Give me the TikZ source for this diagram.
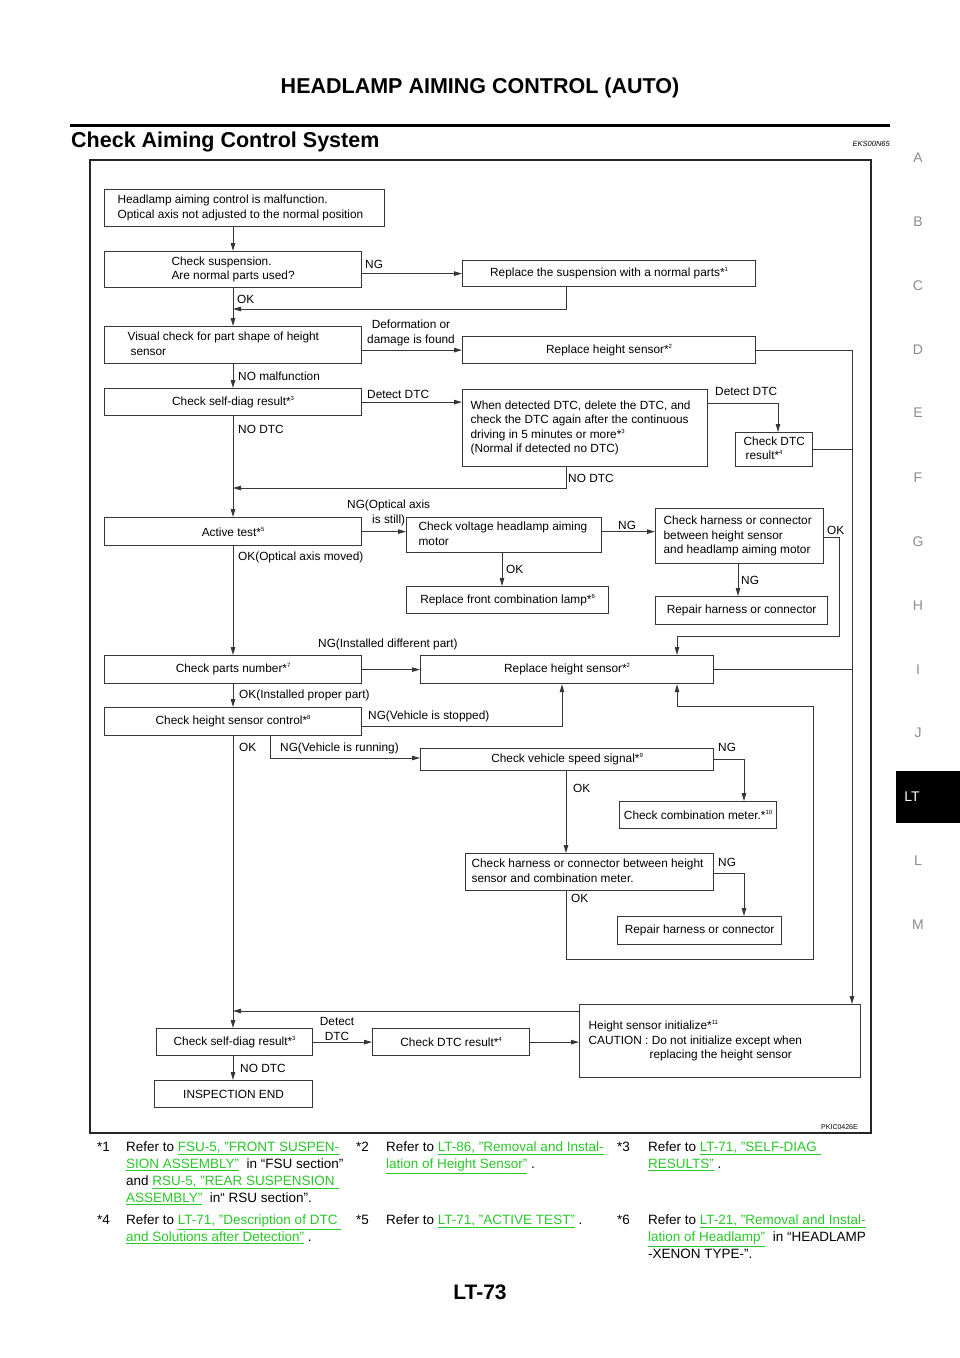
\documentclass[tikz,border=0pt]{standalone}
\usepackage{fontspec}
\setmainfont{Liberation Sans}
\usetikzlibrary{arrows.meta}
\definecolor{lk}{RGB}{40,200,40}
\definecolor{ln}{RGB}{55,55,55}
\newcommand{\sref}[1]{*\raisebox{0.42em}{\fontsize{6}{6}\selectfont #1}}
\newcommand{\lnk}[1]{\textcolor{lk}{\underline{#1}}}
\newcommand{\bxc}[6]{\pgfmathsetmacro\myBW{#4-#2}\pgfmathsetmacro\myBH{#5-#3}%
  \node[box, minimum width=\myBW pt, minimum height=\myBH pt, align=center] (#1) at (#2,#3) {#6};}
\newcommand{\bxl}[7]{\pgfmathsetmacro\myBW{#4-#2-2*#6}\pgfmathsetmacro\myBH{#5-#3}%
  \node[box, inner xsep=#6pt, minimum width={(#4-#2)*1pt}, minimum height=\myBH pt] (#1) at (#2,#3)
  {\makebox[\myBW pt][l]{\begin{tabular}{@{}l@{}}#7\end{tabular}}};}
\begin{document}
\begin{tikzpicture}[x=1pt,y=-1pt,
  box/.style={draw=ln, line width=1.2pt, inner sep=0pt, anchor=north west, font=\fontsize{11.85}{14.5}\selectfont},
  lbl/.style={anchor=base west, inner sep=0pt, font=\fontsize{11.85}{14.5}\selectfont},
  fn/.style={anchor=base west, inner sep=0pt, font=\fontsize{13.5}{17}\selectfont},
  tab/.style={inner sep=0pt, font=\fontsize{14}{14}\selectfont, text=black!45},
  con/.style={draw=ln, line width=1pt},
  arr/.style={con, -{Triangle[length=8pt,width=4.5pt]}}]
\useasboundingbox (0,0) rectangle (960,1358);
\fill[white] (0,0) rectangle (960,1358);

% header
\node[anchor=base, inner sep=0pt, font=\bfseries\fontsize{21.5}{24}\selectfont] (title) at (480,93) {HEADLAMP AIMING CONTROL (AUTO)};
\draw[line width=3pt] (70,125) -- (890,125);
\node[anchor=base west, inner sep=0pt, font=\bfseries\fontsize{21.5}{24}\selectfont] (sect) at (71,147) {Check Aiming Control System};
\node[anchor=base east, inner sep=0pt, font=\itshape\fontsize{7.5}{8}\selectfont] (code) at (890,146) {EKS00N65};

% side tabs
\foreach \l/\yy in {A/158,B/222,C/286,D/350,E/413,F/478,G/542,H/606,I/670,J/733,L/861,M/925}
  \node[tab] (tab\l) at (918,\yy) {\l};
\fill[black] (896,771) rectangle (960,823);
\node[tab, text=white] (tabLT) at (912,797) {LT};

% frame
\draw[line width=2pt, draw=black!85] (90,160) rectangle (871,1133);
\node[anchor=base east, inner sep=0pt, font=\fontsize{7}{8}\selectfont] (pkic) at (858,1129) {PKIC0426E};

% boxes
\bxl{B1}{104}{189}{384}{226}{13}{Headlamp aiming control is malfunction.\\Optical axis not adjusted to the normal position}
\node[box, minimum width=257pt, minimum height=36pt, align=left] (B2) at (104,251) {Check suspension.\\Are normal parts used?};
\bxc{R1}{462}{260}{755}{286}{Replace the suspension with a normal parts\sref{1}}
\bxl{B3}{104}{326}{361}{363}{23}{Visual check for part shape of height\\\hspace*{3pt}sensor}
\bxc{R2}{462}{336}{755}{363}{Replace height sensor\sref{2}}
\bxc{B4}{104}{388}{361}{415}{Check self-diag result\sref{3}}
\bxl{B5}{462}{389}{707}{466}{8}{When detected DTC, delete the DTC, and\\check the DTC again after the continuous\\driving in 5 minutes or more\sref{3}\\(Normal if detected no DTC)}
\bxl{B6}{735}{432}{812}{466}{8}{Check DTC\\\hspace*{2pt}result\sref{4}}
\bxc{B7}{104}{517}{361}{545}{Active test\sref{5}}
\bxl{B8}{406}{517}{601}{552}{12}{Check voltage headlamp aiming\\motor}
\bxl{B9}{655}{508}{823}{563}{8}{Check harness or connector\\between height sensor\\and headlamp aiming motor}
\bxc{B10}{655}{596}{827}{624}{Repair harness or connector}
\bxc{B11}{406}{586}{608}{613}{Replace front combination lamp\sref{6}}
\bxc{B12}{104}{655}{361}{683}{Check parts number\sref{7}}
\bxc{R3}{420}{655}{713}{683}{Replace height sensor\sref{2}}
\bxc{B13}{104}{707}{361}{735}{Check height sensor control\sref{8}}
\bxc{B14}{420}{748}{713}{770}{Check vehicle speed signal\sref{9}}
\bxc{B15}{619}{801}{776}{828}{Check combination meter.\sref{10}}
\bxl{B16}{465}{853}{713}{890}{6}{Check harness or connector between height\\sensor and combination meter.}
\bxc{B17}{617}{916}{781}{944}{Repair harness or connector}
\bxl{B20}{579}{1004}{860}{1077}{9}{Height sensor initialize\sref{11}\\CAUTION : Do not initialize except when\\\hspace*{61pt}replacing the height sensor}
\bxc{B18}{156}{1028}{312}{1055}{Check self-diag result\sref{3}}
\bxc{B19}{372}{1028}{529}{1055}{Check DTC result\sref{4}}
\bxc{B21}{154}{1080}{312}{1107}{INSPECTION END}

% helper coordinates
\coordinate (xm) at (233,0);
\coordinate (xr) at (852,0);
\coordinate (p566) at (566,309);
\coordinate (d1) at (778,403);
\coordinate (n1) at (566,488);
\coordinate (k1) at (839,537);
\coordinate (k2) at (839,636);
\coordinate (k3) at (677,636);
\coordinate (g1) at (738,0);
\coordinate (o1) at (502,0);
\coordinate (s1) at (562,726);
\coordinate (r1) at (270,758);
\coordinate (c744) at (744,0);
\coordinate (c566) at (566,0);
\coordinate (t1) at (744,873);
\coordinate (q1) at (566,959);
\coordinate (q2) at (813,959);
\coordinate (q3) at (813,706);
\coordinate (q4) at (677,706);
\coordinate (m1) at (233,1011);

% connectors
\draw[arr] (B1.south -| xm) -- (B2.north -| xm);
\draw[arr] (B2.east |- R1.west) -- (R1.west);
\draw[arr] (R1.south -| p566) -- (p566) -- (p566 -| xm);
\draw[arr] (B2.south -| xm) -- (B3.north -| xm);
\draw[arr] (B3.east |- R2.west) -- (R2.west);
\draw[arr] (R2.east) -- (R2.east -| xr) -- (B20.north -| xr);
\draw[arr] (B3.south -| xm) -- (B4.north -| xm);
\draw[arr] (B4.east) -- (B4.east -| B5.west);
\draw[arr] (B5.east |- d1) -- (d1) -- (B6.north -| d1);
\draw[con] (B6.east) -- (B6.east -| xr);
\draw[arr] (B5.south -| n1) -- (n1) -- (n1 -| xm);
\draw[arr] (B4.south -| xm) -- (B7.north -| xm);
\draw[arr] (B7.east) -- (B7.east -| B8.west);
\draw[arr] (B8.east |- B7.east) -- (B9.west |- B7.east);
\draw[arr] (B9.east |- k1) -- (k1) -- (k2) -- (k3) -- (R3.north -| k3);
\draw[arr] (B9.south -| g1) -- (B10.north -| g1);
\draw[arr] (B8.south -| o1) -- (B11.north -| o1);
\draw[arr] (B7.south -| xm) -- (B12.north -| xm);
\draw[arr] (B12.east) -- (B12.east -| R3.west);
\draw[con] (R3.east) -- (R3.east -| xr);
\draw[arr] (B12.south -| xm) -- (B13.north -| xm);
\draw[arr] (B13.east |- s1) -- (s1) -- (R3.south -| s1);
\draw[arr] (B13.south -| r1) -- (r1) -- (r1 -| B14.west);
\draw[arr] (B14.east) -- (B14.east -| c744) -- (B15.north -| c744);
\draw[arr] (B14.south -| c566) -- (B16.north -| c566);
\draw[arr] (B16.east |- t1) -- (t1) -- (B17.north -| t1);
\draw[arr] (B16.south -| q1) -- (q1) -- (q2) -- (q3) -- (q4) -- (R3.south -| q4);
\draw[arr] (B13.south -| xm) -- (B18.north -| xm);
\draw[arr] (B20.west |- m1) -- (m1);
\draw[arr] (B18.east) -- (B19.west);
\draw[arr] (B19.east) -- (B19.east -| B20.west);
\draw[arr] (B18.south -| xm) -- (B21.north -| xm);

% connector labels
\node[lbl] (l1) at (365,268.5) {NG};
\node[lbl] (l2) at (237,303) {OK};
\node[lbl, anchor=base] (l3) at (411,328) {Deformation or};
\node[lbl, anchor=base] (l4) at (411,343) {damage is found};
\node[lbl] (l5) at (238,380) {NO malfunction};
\node[lbl] (l6) at (367,398) {Detect DTC};
\node[lbl] (l7) at (238,433) {NO DTC};
\node[lbl] (l8) at (715,395) {Detect DTC};
\node[lbl] (l9) at (568,482) {NO DTC};
\node[lbl] (l10) at (347,508) {NG(Optical axis};
\node[lbl] (l11) at (372,523) {is still)};
\node[lbl] (l12) at (238,560) {OK(Optical axis moved)};
\node[lbl] (l13) at (618,529) {NG};
\node[lbl] (l14) at (827,534) {OK};
\node[lbl] (l15) at (741,584) {NG};
\node[lbl] (l16) at (506,573) {OK};
\node[lbl] (l17) at (318,647) {NG(Installed different part)};
\node[lbl] (l18) at (239,698) {OK(Installed proper part)};
\node[lbl] (l19) at (368,719) {NG(Vehicle is stopped)};
\node[lbl] (l20) at (239,751) {OK};
\node[lbl] (l21) at (280,751) {NG(Vehicle is running)};
\node[lbl] (l22) at (718,751) {NG};
\node[lbl] (l23) at (573,792) {OK};
\node[lbl] (l24) at (718,866) {NG};
\node[lbl] (l25) at (571,902) {OK};
\node[lbl, anchor=base] (l26) at (337,1025) {Detect};
\node[lbl, anchor=base] (l27) at (337,1040) {DTC};
\node[lbl] (l28) at (240,1072) {NO DTC};

% footnotes
\node[fn] (f1) at (97,1151.5) {*1};
\node[fn] (f1a) at (126,1151.5) {Refer to \lnk{FSU-5, "FRONT SUSPEN-}};
\node[fn] (f1b) at (126,1168.5) {\lnk{SION ASSEMBLY"}\ \ in “FSU section”};
\node[fn] (f1c) at (126,1185.5) {and \lnk{RSU-5, "REAR SUSPENSION }};
\node[fn] (f1d) at (126,1202.5) {\lnk{ASSEMBLY"}\ \ in“ RSU section”.};
\node[fn] (f2) at (356,1151.5) {*2};
\node[fn] (f2a) at (386,1151.5) {Refer to \lnk{LT-86, "Removal and Instal-}};
\node[fn] (f2b) at (386,1168.5) {\lnk{lation of Height Sensor"} .};
\node[fn] (f3) at (617,1151.5) {*3};
\node[fn] (f3a) at (648,1151.5) {Refer to \lnk{LT-71, "SELF-DIAG }};
\node[fn] (f3b) at (648,1168.5) {\lnk{RESULTS"} .};
\node[fn] (f4) at (97,1224.5) {*4};
\node[fn] (f4a) at (126,1224.5) {Refer to \lnk{LT-71, "Description of DTC }};
\node[fn] (f4b) at (126,1241.5) {\lnk{and Solutions after Detection"} .};
\node[fn] (f5) at (356,1224.5) {*5};
\node[fn] (f5a) at (386,1224.5) {Refer to \lnk{LT-71, "ACTIVE TEST"} .};
\node[fn] (f6) at (617,1224.5) {*6};
\node[fn] (f6a) at (648,1224.5) {Refer to \lnk{LT-21, "Removal and Instal-}};
\node[fn] (f6b) at (648,1241.5) {\lnk{lation of Headlamp"}\ \ in “HEADLAMP};
\node[fn] (f6c) at (648,1258.5) {-XENON TYPE-”.};

% footer
\node[anchor=base, inner sep=0pt, font=\bfseries\fontsize{21}{24}\selectfont] (page) at (480,1299) {LT-73};
\end{tikzpicture}
\end{document}
